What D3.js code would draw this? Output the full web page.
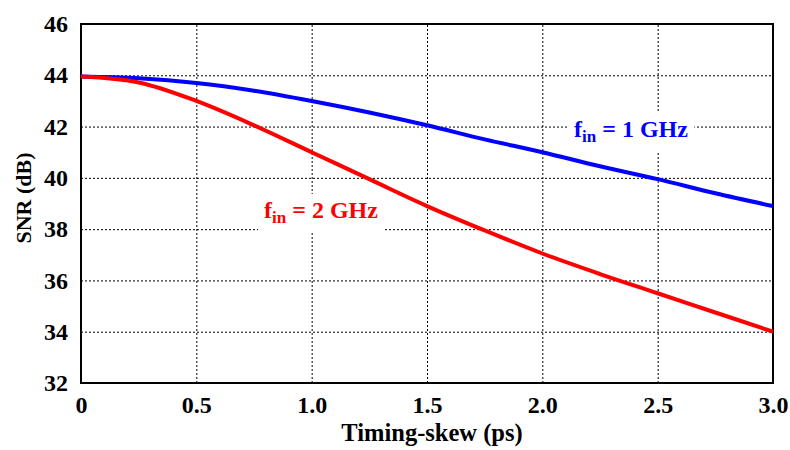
<!DOCTYPE html>
<html>
<head>
<meta charset="utf-8">
<script src="https://cdn.jsdelivr.net/npm/d3@7"></script>
<style>
  body { margin: 0; background: #fff; }
  .grid line { stroke: #000; stroke-dasharray: 2,2; stroke-width: 1; }
  .grid path { display: none; }
</style>
</head>
<body>
<div id="chart" style="width:790px;height:450px"></div>
<script>
const skew = [0, 0.25, 0.5, 0.75, 1.0, 1.25, 1.5, 1.75, 2.0, 2.25, 2.5, 2.75, 3.0];
const snr1GHz = [43.95, 43.88, 43.7, 43.4, 43.0, 42.55, 42.05, 41.5, 41.0, 40.45, 39.95, 39.4, 38.9];
const snr2GHz = [43.95, 43.72, 43.0, 42.05, 41.0, 39.95, 38.9, 37.95, 37.05, 36.25, 35.5, 34.75, 34.0];
const xTicks = [0, 0.5, 1.0, 1.5, 2.0, 2.5, 3.0];
const xTickLabels = ["0", "0.5", "1.0", "1.5", "2.0", "2.5", "3.0"];
const yTicks = [32, 34, 36, 38, 40, 42, 44, 46];

const width = 790, height = 450;
const margin = { top: 24, right: 17, bottom: 67, left: 81 };

const svg = d3.select("#chart").append("svg")
    .attr("width", width)
    .attr("height", height);

const x = d3.scaleLinear().domain([0, 3]).range([margin.left, width - margin.right]);
const y = d3.scaleLinear().domain([32, 46]).range([height - margin.bottom, margin.top]);

// grid
svg.append("g")
    .attr("class", "grid")
    .attr("transform", `translate(0,${height - margin.bottom})`)
    .call(d3.axisBottom(x).tickValues(xTicks.slice(1, -1)).tickSize(-(height - margin.top - margin.bottom)).tickFormat(""));
svg.append("g")
    .attr("class", "grid")
    .attr("transform", `translate(${margin.left},0)`)
    .call(d3.axisLeft(y).tickValues(yTicks.slice(1, -1)).tickSize(-(width - margin.left - margin.right)).tickFormat(""));

// frame
svg.append("rect")
    .attr("x", margin.left).attr("y", margin.top)
    .attr("width", width - margin.left - margin.right)
    .attr("height", height - margin.top - margin.bottom)
    .attr("fill", "none").attr("stroke", "#000").attr("stroke-width", 2);

// axes labels
const xAxis = svg.append("g")
    .attr("transform", `translate(0,${height - margin.bottom})`)
    .call(d3.axisBottom(x).tickValues(xTicks).tickSize(0).tickPadding(13)
        .tickFormat((d, i) => xTickLabels[i]));
xAxis.select(".domain").remove();
xAxis.selectAll("text").attr("font-size", 24).attr("fill", "#000");

const yAxis = svg.append("g")
    .attr("transform", `translate(${margin.left},0)`)
    .call(d3.axisLeft(y).tickValues(yTicks).tickSize(0).tickPadding(13));
yAxis.select(".domain").remove();
yAxis.selectAll("text").attr("font-size", 24).attr("fill", "#000");

svg.append("text")
    .attr("x", 432)
    .attr("y", 441)
    .attr("text-anchor", "middle")
    .attr("font-size", 24.5)
    .text("Timing-skew (ps)");

svg.append("text")
    .attr("transform", "translate(31,198) rotate(-90)")
    .attr("text-anchor", "middle")
    .attr("font-size", 22)
    .text("SNR (dB)");

// series
const line = d3.line().x((d, i) => x(skew[i])).y(d => y(d)).curve(d3.curveMonotoneX);

// labels with white background
function label(cx, by, txt, color) {
    const g = svg.append("g");
    const bg = g.append("rect").attr("fill", "#fff");
    const t = g.append("text")
        .attr("x", cx).attr("y", by)
        .attr("text-anchor", "middle")
        .attr("font-size", 24)
        .attr("fill", color)
        .style("font-family", '"Liberation Serif", serif').style("font-weight", "bold");
    t.append("tspan").text("f");
    t.append("tspan").attr("font-size", 17).attr("dy", 5).text("in");
    t.append("tspan").attr("dy", -5).text(` = ${txt} GHz`);
    const b = t.node().getBBox();
    bg.attr("x", b.x - 6).attr("y", b.y - 3).attr("width", b.width + 12).attr("height", b.height + 8);
}
label(321, 218, "2", "#ff0000");
label(631, 137, "1", "#0000ff");

svg.append("path").datum(snr1GHz)
    .attr("d", line).attr("fill", "none")
    .attr("stroke", "#0000ff").attr("stroke-width", 4);
svg.append("path").datum(snr2GHz)
    .attr("d", line).attr("fill", "none")
    .attr("stroke", "#ff0000").attr("stroke-width", 4);

svg.selectAll("text")
    .style("font-family", '"Liberation Serif", serif')
    .style("font-weight", "bold");
</script>
</body>
</html>
